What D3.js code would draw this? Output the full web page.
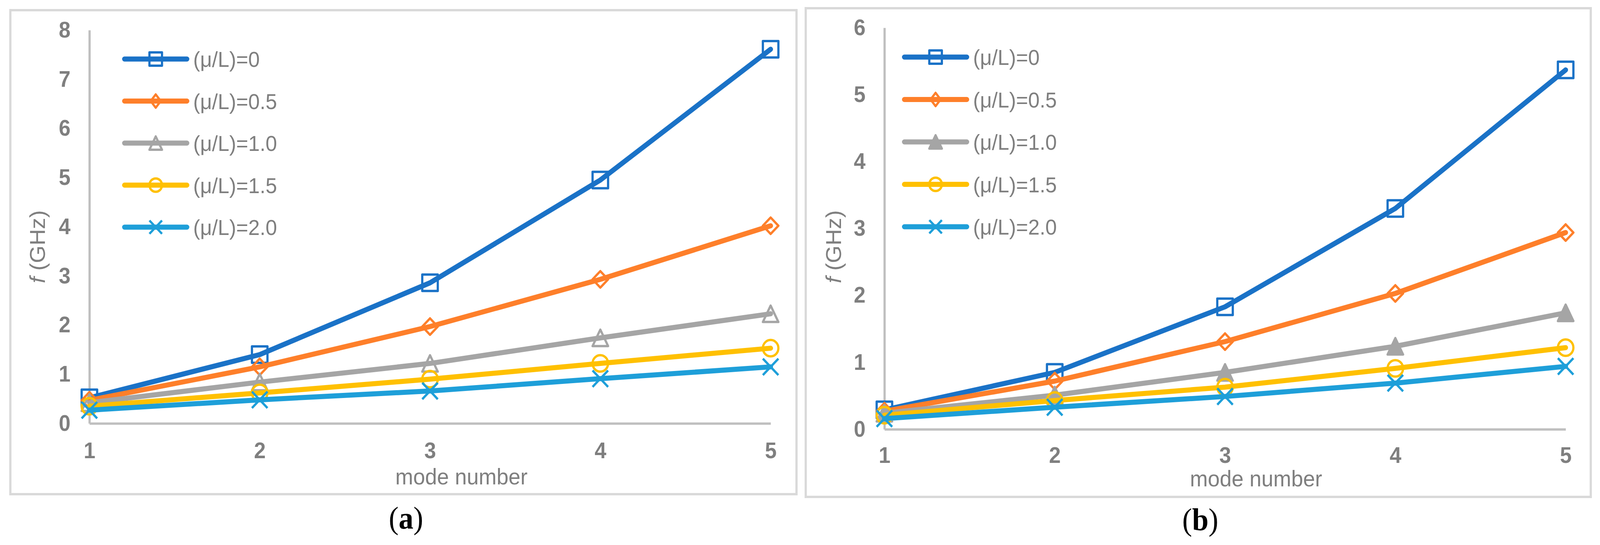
<!DOCTYPE html>
<html>
<head>
<meta charset="utf-8">
<script src="https://cdn.jsdelivr.net/npm/d3@7"></script>
<style>
  html, body { margin: 0; padding: 0; background: #fff; overflow: hidden; }
  .graph-pane { width: 100vw; height: 100vh; }
  svg { display: block; }
  text { font-family: "Liberation Sans", Arial, sans-serif; }
</style>
</head>
<body>
<div class="graph-pane"></div>
<script>
// mode numbers on the x axis
var modes = [1, 2, 3, 4, 5];
var seriesLabels = ["(\u03bc/L)=0", "(\u03bc/L)=0.5", "(\u03bc/L)=1.0", "(\u03bc/L)=1.5", "(\u03bc/L)=2.0"];
var seriesColors = ["#1a72c7", "#fe7f2a", "#a5a5a5", "#ffc000", "#1e9fd9"];
var seriesMarkers = ["square", "diamond", "triangle", "circle", "cross"];

// panel (a) frequencies, GHz
var freqA0 = [0.52, 1.40, 2.86, 4.95, 7.61];
var freqA05 = [0.47, 1.15, 1.97, 2.93, 4.02];
var freqA10 = [0.42, 0.84, 1.22, 1.74, 2.23];
var freqA15 = [0.35, 0.62, 0.90, 1.22, 1.53];
var freqA20 = [0.27, 0.48, 0.66, 0.91, 1.15];

// panel (b) frequencies, GHz
var freqB0 = [0.29, 0.85, 1.83, 3.30, 5.37];
var freqB05 = [0.27, 0.72, 1.31, 2.03, 2.94];
var freqB10 = [0.24, 0.51, 0.85, 1.24, 1.74];
var freqB15 = [0.21, 0.43, 0.63, 0.91, 1.22];
var freqB20 = [0.16, 0.33, 0.49, 0.69, 0.94];

var yTicksA = [0, 1, 2, 3, 4, 5, 6, 7, 8];
var yTicksB = [0, 1, 2, 3, 4, 5, 6];

var panels = [
  {
    caption: "a", series: [freqA0, freqA05, freqA10, freqA15, freqA20], yTicks: yTicksA, triFill: false,
    frame: [28, 26, 2156, 1264], x0: 242, x1: 2086, yTop: 77, yBot: 1083, xPad: 49,
    legX: 337, legY: 151, legStep: 107.5,
    titleX: 122, titleY: 631, xlabX: 1249, xlabY: 1239, capX: 1099, capY: 1352
  },
  {
    caption: "b", series: [freqB0, freqB05, freqB10, freqB15, freqB20], yTicks: yTicksB, triFill: true,
    frame: [2181, 21, 4306, 1271], x0: 2394, x1: 4238, yTop: 71, yBot: 1098, xPad: 46,
    legX: 2448, legY: 146, legStep: 108.5,
    titleX: 2276, titleY: 631, xlabX: 3400, xlabY: 1244, capX: 3249, capY: 1356
  }
];

// the drawing is laid out on a 4331 x 1394 grid and stretched to the window
var svg = d3.select(".graph-pane")
  .append("svg")
  .attr("width", "100%")
  .attr("height", "100%")
  .attr("viewBox", "0 0 4331 1394")
  .attr("preserveAspectRatio", "none");

//draws one marker centered on cx,cy; s is the outer size, dw squeezes the diamond
function drawMarker(g, type, cx, cy, s, color, filled, dw) {
  var h = s / 2 - 3;
  var m;
  if (type === "square") {
    m = g.append("rect").attr("x", cx - h).attr("y", cy - h).attr("width", 2 * h).attr("height", 2 * h);
  } else if (type === "diamond") {
    m = g.append("path").attr("d", "M" + cx + "," + (cy - h) + "L" + (cx + h * dw) + "," + cy +
      "L" + cx + "," + (cy + h) + "L" + (cx - h * dw) + "," + cy + "Z");
  } else if (type === "triangle") {
    m = g.append("path").attr("d", "M" + cx + "," + (cy - h) + "L" + (cx + h) + "," + (cy + h) +
      "L" + (cx - h) + "," + (cy + h) + "Z");
  } else if (type === "circle") {
    m = g.append("circle").attr("cx", cx).attr("cy", cy).attr("r", h);
  } else {
    m = g.append("path").attr("d", "M" + (cx - h) + "," + (cy - h) + "L" + (cx + h) + "," + (cy + h) +
      "M" + (cx - h) + "," + (cy + h) + "L" + (cx + h) + "," + (cy - h));
  }
  m.attr("fill", filled ? color : "none")
    .attr("stroke", color)
    .attr("stroke-width", 6)
    .attr("stroke-linejoin", "round");
}

panels.forEach(function(p) {
  var g = svg.append("g");

  g.append("rect")
    .attr("x", p.frame[0]).attr("y", p.frame[1])
    .attr("width", p.frame[2] - p.frame[0]).attr("height", p.frame[3] - p.frame[1])
    .attr("fill", "#fff").attr("stroke", "#d9d9d9").attr("stroke-width", 6);

  var xScale = d3.scaleLinear().domain([1, 5]).range([p.x0, p.x1]);
  var yScale = d3.scaleLinear().domain([0, d3.max(p.yTicks)]).range([p.yBot, p.yTop]);

  var xAxis = d3.axisBottom(xScale).tickValues(modes).tickFormat(d3.format("d")).tickSize(0).tickPadding(p.xPad);
  var yAxis = d3.axisLeft(yScale).tickValues(p.yTicks).tickFormat(d3.format("d")).tickSize(0).tickPadding(52);

  var gx = g.append("g").attr("transform", "translate(0," + p.yBot + ")").call(xAxis);
  var gy = g.append("g").attr("transform", "translate(" + p.x0 + ",0)").call(yAxis);
  [gx, gy].forEach(function(ax) {
    ax.select(".domain").attr("stroke", "#bfbfbf").attr("stroke-width", 6);
    ax.selectAll(".tick text")
      .attr("fill", "#7f7f7f")
      .style("font-size", "57px")
      .style("font-weight", "bold")
      .style("font-family", "'Liberation Sans', Arial, sans-serif");
  });
  gy.selectAll(".tick text").attr("text-anchor", "middle").attr("x", -67);

  // axis titles
  g.append("text")
    .attr("x", p.xlabX).attr("y", p.xlabY)
    .attr("text-anchor", "middle")
    .attr("fill", "#7f7f7f")
    .style("font-size", "58px")
    .text("mode number");

  var yt = g.append("text")
    .attr("transform", "translate(" + p.titleX + "," + p.titleY + ") rotate(-90)")
    .attr("text-anchor", "middle")
    .attr("fill", "#7f7f7f")
    .style("font-size", "58px");
  yt.append("tspan").style("font-style", "italic").text("f");
  yt.append("tspan").text(" (GHz)");

  var line = d3.line()
    .x(function(d, i) { return xScale(modes[i]); })
    .y(function(d) { return yScale(d); });

  p.series.forEach(function(vals, k) {
    var sg = g.append("g");
    sg.append("path")
      .datum(vals)
      .attr("fill", "none")
      .attr("stroke", seriesColors[k])
      .attr("stroke-width", 13)
      .attr("stroke-linecap", "round")
      .attr("stroke-linejoin", "round")
      .attr("d", line);
    vals.forEach(function(v, i) {
      drawMarker(sg, seriesMarkers[k], xScale(modes[i]), yScale(v), 48, seriesColors[k],
        p.triFill && seriesMarkers[k] === "triangle", 1);
    });
  });

  // legend
  seriesLabels.forEach(function(lab, k) {
    var ly = p.legY + k * p.legStep;
    var lg = g.append("g");
    lg.append("line")
      .attr("x1", p.legX).attr("x2", p.legX + 169)
      .attr("y1", ly).attr("y2", ly)
      .attr("stroke", seriesColors[k])
      .attr("stroke-width", 13)
      .attr("stroke-linecap", "round");
    drawMarker(lg, seriesMarkers[k], p.legX + 84.5, ly, 40, seriesColors[k],
      p.triFill && seriesMarkers[k] === "triangle", 0.8);
    lg.append("text")
      .attr("x", p.legX + 186).attr("y", ly)
      .attr("dy", "0.36em")
      .attr("fill", "#7f7f7f")
      .style("font-size", "56px")
      .text(lab);
  });

  // sub-figure caption
  var cap = svg.append("text")
    .attr("x", p.capX).attr("y", p.capY)
    .attr("text-anchor", "middle")
    .style("font-family", "'Liberation Serif', 'Times New Roman', serif")
    .style("font-size", "80px")
    .attr("fill", "#000");
  cap.append("tspan").text("(");
  cap.append("tspan").style("font-weight", "bold").text(p.caption);
  cap.append("tspan").text(")");
});
</script>
</body>
</html>
